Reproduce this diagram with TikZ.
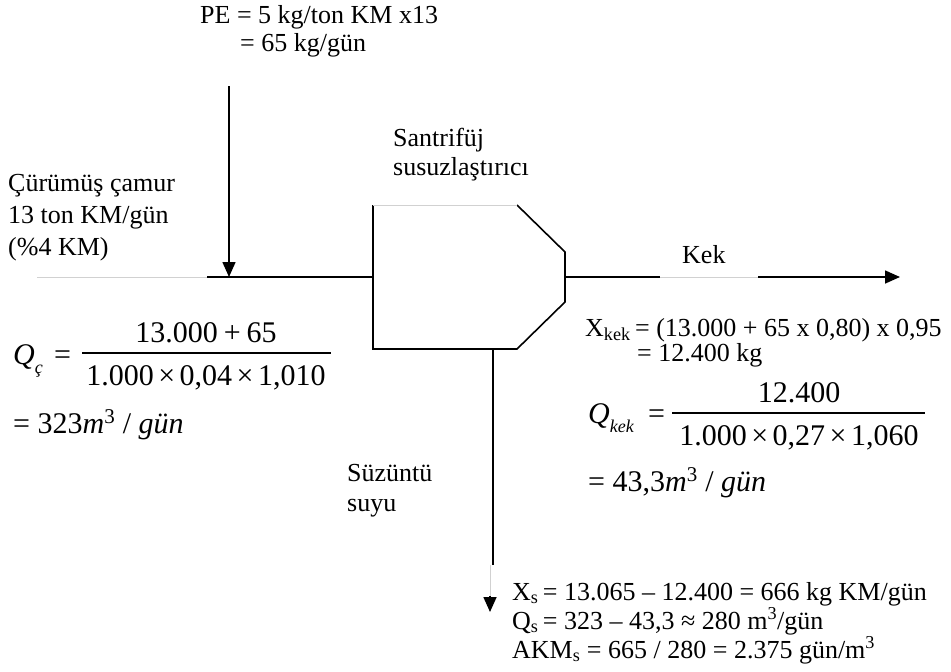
\documentclass[tikz,border=0pt]{standalone}
\usepackage{fontspec}
\setmainfont{Liberation Serif}
\usetikzlibrary{arrows.meta}
\begin{document}
\begin{tikzpicture}[x=1pt,y=-1pt,
  txt/.style={anchor=base west, inner sep=0pt, font=\fontsize{26}{30}\selectfont},
  eq/.style={anchor=base, inner sep=0pt, font=\fontsize{30}{34}\selectfont},
  eqw/.style={eq, anchor=base west},
  flow/.style={line width=1.6pt, black},
  faint/.style={line width=0.8pt, black!18},
  bar/.style={line width=1.3pt, black},
  tip/.style={-{Triangle[length=15pt,width=13pt]}}]
\useasboundingbox (0,0) rectangle (951,672);
\fill[white] (0,0) rectangle (951,672);

% coordinates of the flow scheme
\coordinate (inStart) at (37,277);
\coordinate (inJoin) at (207,277);
\coordinate (peTop) at (229,86);
\coordinate (peIn) at (229,277);
\coordinate (bTL) at (373,205);
\coordinate (bTR) at (517,205);
\coordinate (bRT) at (565,252);
\coordinate (bRB) at (565,302);
\coordinate (bBR) at (517,349);
\coordinate (bBL) at (373,349);
\coordinate (bIn) at (373,277);
\coordinate (bOut) at (565,277);
\coordinate (kA) at (660,277);
\coordinate (kB) at (758,277);
\coordinate (kEnd) at (900,277);
\coordinate (sTop) at (493,349);
\coordinate (sMid) at (493,565);
\coordinate (sMidB) at (490,565);
\coordinate (sArr) at (490,596);
\coordinate (sEnd) at (490,612);

% centrifuge body
\draw[flow, line join=miter] (bTR) -- (bRT) -- (bRB) -- (bBR) -- (bBL) -- (bTL);
\draw[faint] (bTL) -- (bTR);

% feed line
\draw[faint] (inStart) -- (inJoin);
\draw[flow] (inJoin) -- (bIn);
\draw[flow, tip] (peTop) -- (peIn);

% cake line
\draw[flow] (bOut) -- (kA);
\draw[faint] (kA) -- (kB);
\draw[flow, tip] (kB) -- (kEnd);

% filtrate line
\draw[flow] (sTop) -- (sMid);
\draw[faint] (sMidB) -- (sArr);
\draw[flow, tip] (sArr) -- (sEnd);

% labels
\node[txt] (pe1) at (200,23) {PE = 5 kg/ton KM x13};
\node[txt] (pe2) at (240,51) {= 65 kg/gün};
\node[txt] (san1) at (393,146) {Santrifüj};
\node[txt] (san2) at (393,175) {susuzlaştırıcı};
\node[txt] (cam1) at (8,191) {Çürümüş çamur};
\node[txt] (cam2) at (8,223) {13 ton KM/gün};
\node[txt] (cam3) at (8,255) {(\%4 KM)};
\node[txt] (kek) at (682,263) {Kek};
\node[txt] (xkek1) at (585,336) {X\textsubscript{kek}\,= (13.000 + 65 x 0,80) x 0,95};
\node[txt] (xkek2) at (637,361) {= 12.400 kg};
\node[txt] (suz1) at (347,481) {Süzüntü};
\node[txt] (suz2) at (347,511) {suyu};
\node[txt] (xs) at (512,600) {X\textsubscript{s}\,= 13.065 – 12.400 = 666 kg KM/gün};
\node[txt] (qs) at (512,629) {Q\textsubscript{s}\,= 323 – 43,3 ≈ 280 m\textsuperscript{3}/gün};
\node[txt] (akm) at (512,658) {AKM\textsubscript{s} = 665 / 280 = 2.375 gün/m\textsuperscript{3}};

% Q_c equation
\node[eqw] (qc) at (13,364) {\textit{Q}\raisebox{-0.3em}{\fontsize{18}{20}\selectfont\textit{ç}}};
\node[eqw] (qcEq) at (54,364) {=};
\node[eq] (qcNum) at (206,342) {13.000\hspace{.2em}+\hspace{.2em}65};
\node[eq] (qcDen) at (206,385) {1.000\hspace{.15em}×\hspace{.15em}0,04\hspace{.15em}×\hspace{.15em}1,010};
\coordinate (qcBarL) at (82,353);
\coordinate (qcBarR) at (331,353);
\draw[bar] (qcBarL) -- (qcBarR);
\node[eqw] (qcRes) at (13,433) {= 323\textit{m}\textsuperscript{3} / \textit{gün}};

% Q_kek equation
\node[eqw] (qk) at (588,423) {\textit{Q}\raisebox{-0.3em}{\fontsize{18}{20}\selectfont\textit{kek}}};
\node[eqw] (qkEq) at (648,423) {=};
\node[eq] (qkNum) at (799,402) {12.400};
\node[eq] (qkDen) at (799,445) {1.000\hspace{.15em}×\hspace{.15em}0,27\hspace{.15em}×\hspace{.15em}1,060};
\coordinate (qkBarL) at (672,413);
\coordinate (qkBarR) at (925,413);
\draw[bar] (qkBarL) -- (qkBarR);
\node[eqw] (qkRes) at (588,491) {= 43,3\textit{m}\textsuperscript{3} / \textit{gün}};
\end{tikzpicture}
\end{document}
